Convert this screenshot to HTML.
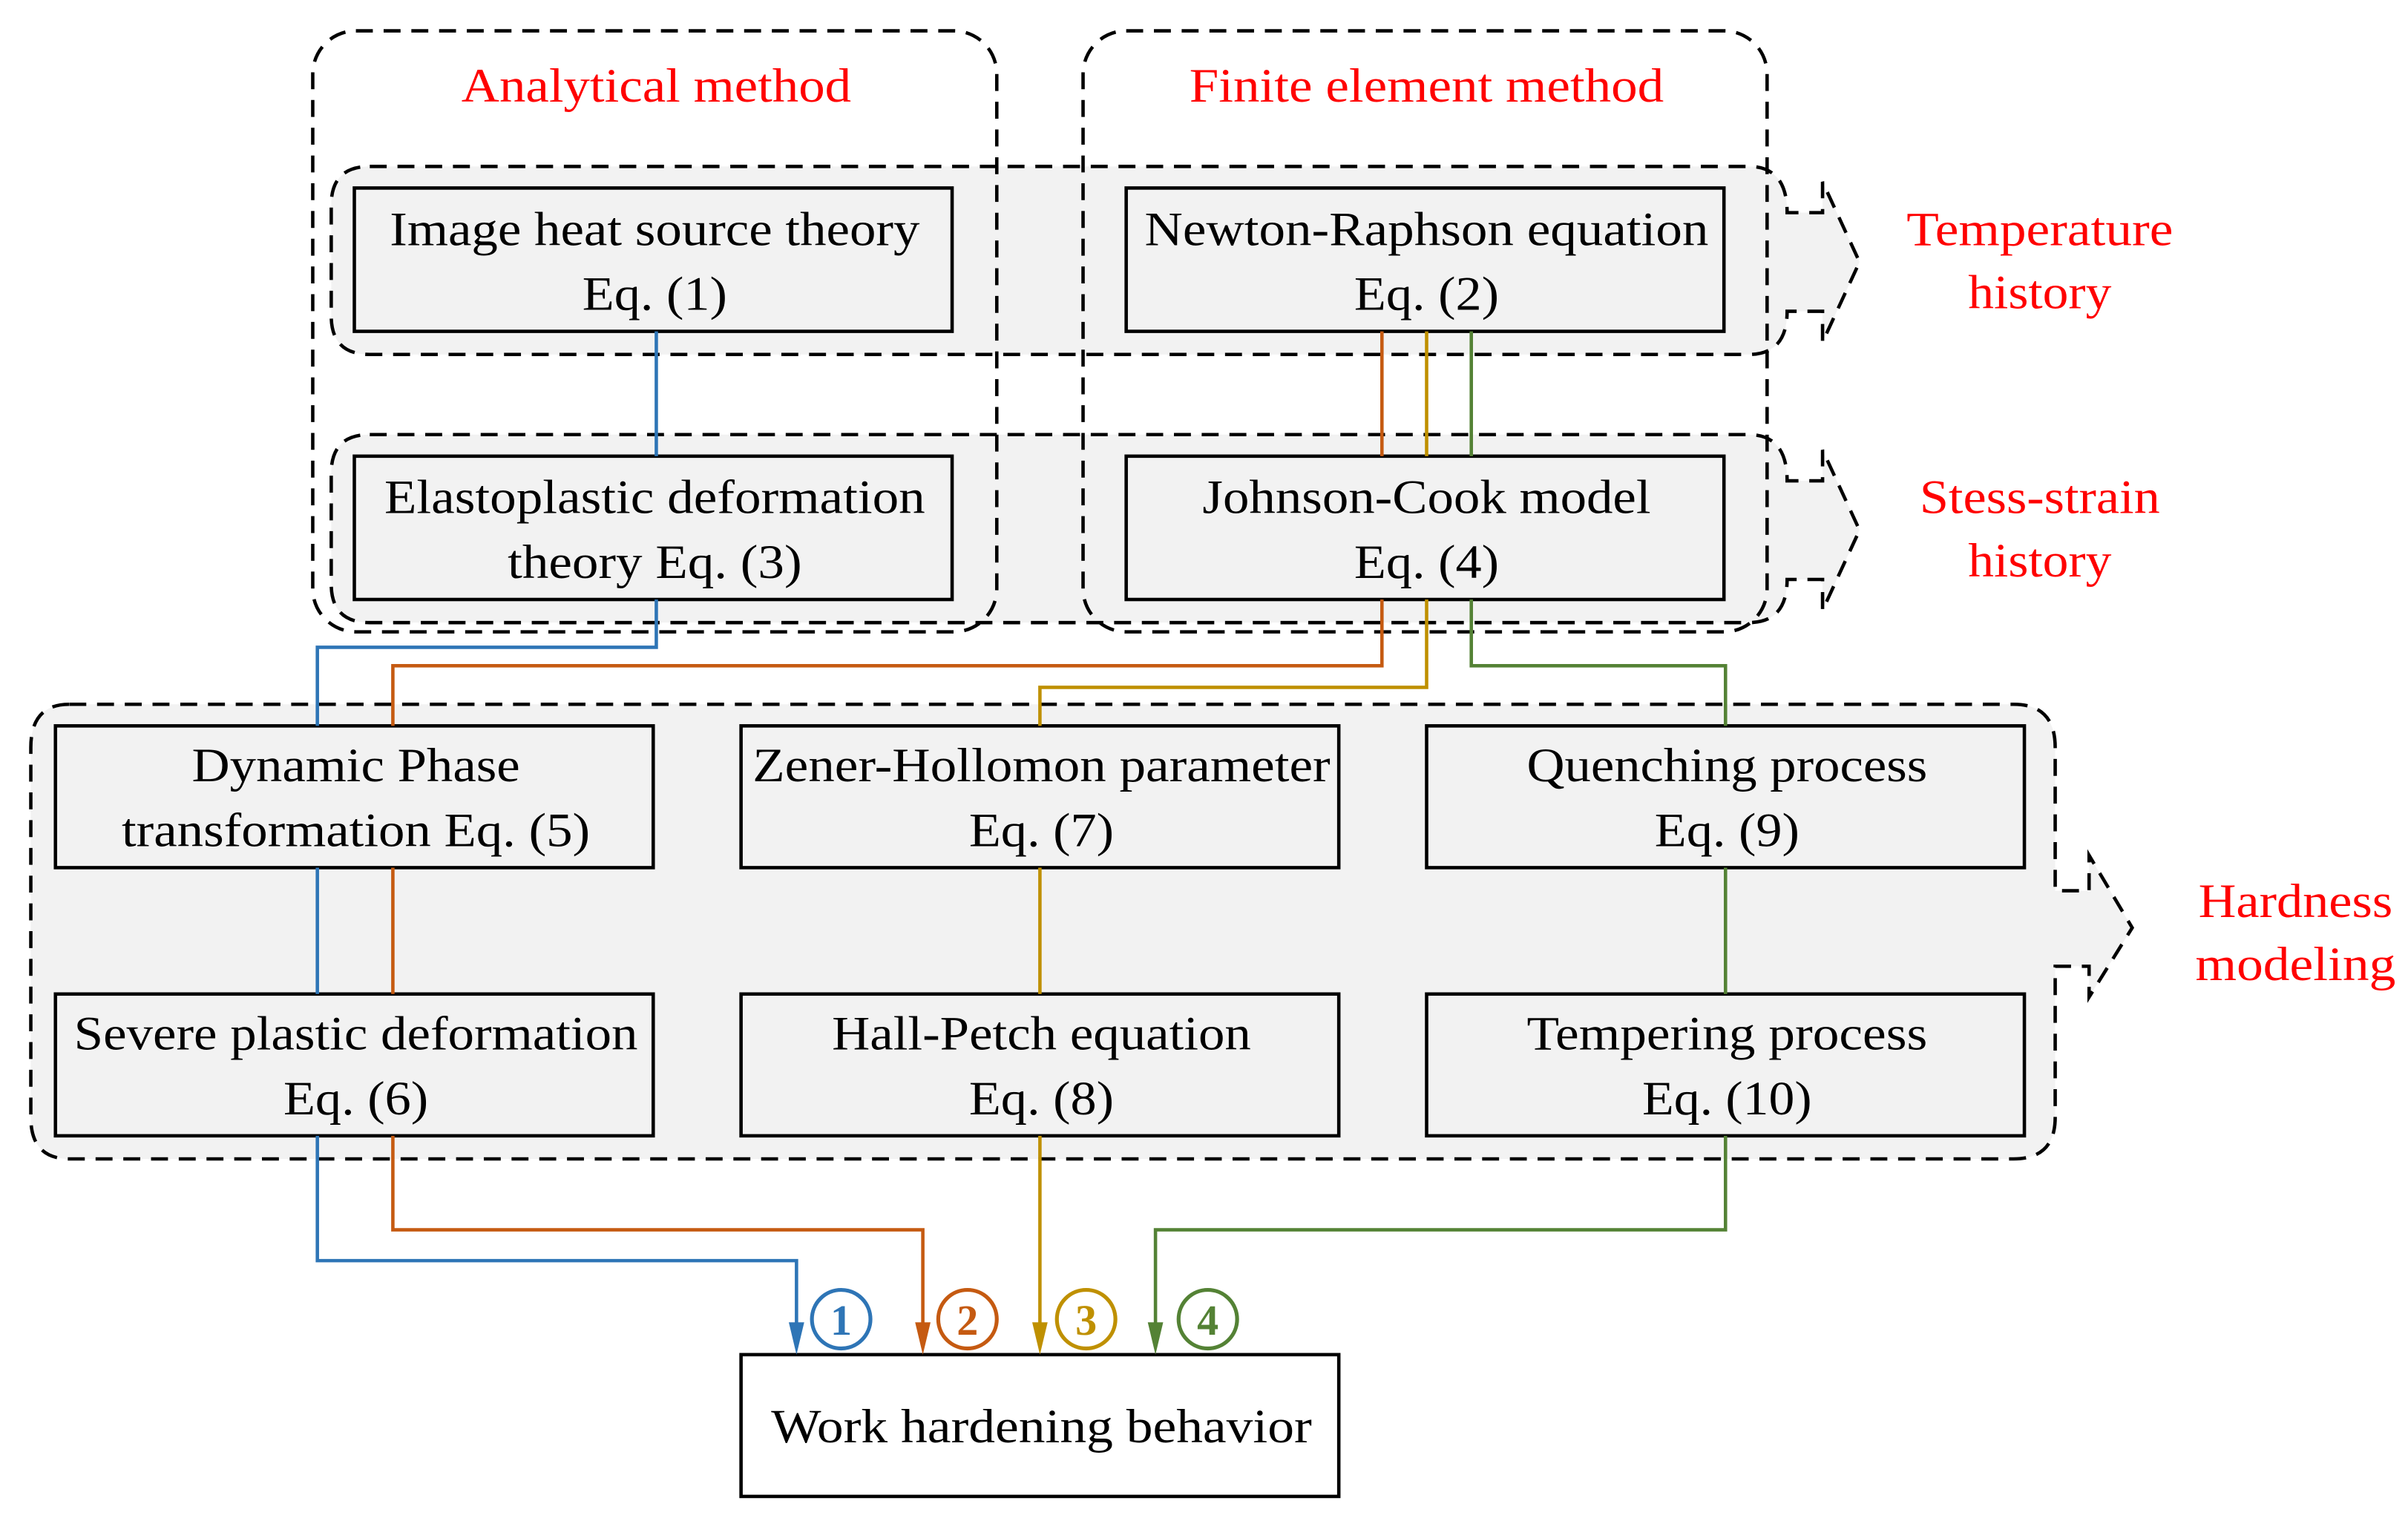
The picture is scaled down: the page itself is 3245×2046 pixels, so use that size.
<!DOCTYPE html>
<html><head><meta charset="utf-8"><style>
html,body{margin:0;padding:0;background:#fff;}
svg{display:block;}
text{font-family:"Liberation Serif",serif;font-size:31px;}
</style></head><body>
<svg width="3245" height="2046" viewBox="0 0 1563 985" preserveAspectRatio="none" xmlns="http://www.w3.org/2000/svg">
<g fill="#f2f2f2" stroke="#000" stroke-width="2.2" stroke-dasharray="11,7">
 <!-- bands -->
 <path d="M240,108 H1135 Q1160,108 1160,138 H1183 V118 L1207,170 L1183,222 V202 H1160 Q1160,230 1135,230 H240 Q215,230 215,205 V133 Q215,108 240,108 Z"/>
 <path d="M240,282 H1135 Q1160,282 1160,312 H1183 V292 L1207,344 L1183,396 V376 H1160 Q1160,404 1135,404 H240 Q215,404 215,379 V307 Q215,282 240,282 Z"/>
 <path d="M45,457 H1307 Q1334,457 1334,485 V578 H1356 V555 L1384,602 L1356,647 V627 H1334 V725 Q1334,752 1307,752 H45 Q20,752 20,725 V485 Q20,457 45,457 Z"/>
</g>
<g fill="none" stroke="#000" stroke-width="2.2" stroke-dasharray="11,7">
 <rect x="203" y="20" width="444" height="390" rx="28"/>
 <rect x="703" y="20" width="444" height="390" rx="28"/>
</g>
<g fill="#f2f2f2" stroke="#000" stroke-width="2.2">
 <rect x="230" y="122" width="388" height="93"/>
 <rect x="731" y="122" width="388" height="93"/>
 <rect x="230" y="296" width="388" height="93"/>
 <rect x="731" y="296" width="388" height="93"/>
 <rect x="36" y="471" width="388" height="92"/>
 <rect x="481" y="471" width="388" height="92"/>
 <rect x="926" y="471" width="388" height="92"/>
 <rect x="36" y="645" width="388" height="92"/>
 <rect x="481" y="645" width="388" height="92"/>
 <rect x="926" y="645" width="388" height="92"/>
</g>
<rect x="481" y="879" width="388" height="92" fill="#fff" stroke="#000" stroke-width="2.2"/>
<g fill="none" stroke-width="2.2">
 <g stroke="#2E75B6">
  <path d="M426,215 V296"/><path d="M426,389 V420 H206 V471"/><path d="M206,563 V645"/><path d="M206,737 V818 H517 V866"/>
 </g>
 <g stroke="#C55A11">
  <path d="M897,215 V296"/><path d="M897,389 V432 H255 V471"/><path d="M255,563 V645"/><path d="M255,737 V798 H599 V866"/>
 </g>
 <g stroke="#BF9000">
  <path d="M926,215 V296"/><path d="M926,389 V446 H675 V471"/><path d="M675,563 V645"/><path d="M675,737 V866"/>
 </g>
 <g stroke="#548235">
  <path d="M955,215 V296"/><path d="M955,389 V432 H1120 V471"/><path d="M1120,563 V645"/><path d="M1120,737 V798 H750 V866"/>
 </g>
</g>
<polygon points="512,858 522,858 517,879" fill="#2E75B6"/>
<polygon points="594,858 604,858 599,879" fill="#C55A11"/>
<polygon points="670,858 680,858 675,879" fill="#BF9000"/>
<polygon points="745,858 755,858 750,879" fill="#548235"/>
<g fill="none" stroke-width="2.5">
 <circle cx="546" cy="856" r="19" stroke="#2E75B6"/>
 <circle cx="628" cy="856" r="19" stroke="#C55A11"/>
 <circle cx="705" cy="856" r="19" stroke="#BF9000"/>
 <circle cx="784" cy="856" r="19" stroke="#548235"/>
</g>
<g text-anchor="middle" font-weight="bold" style="font-size:28px">
 <text x="546" y="866" fill="#2E75B6" style="font-size:28px">1</text>
 <text x="628" y="866" fill="#C55A11" style="font-size:28px">2</text>
 <text x="705" y="866" fill="#BF9000" style="font-size:28px">3</text>
 <text x="784" y="866" fill="#548235" style="font-size:28px">4</text>
</g>
<g text-anchor="middle" fill="#000" lengthAdjust="spacingAndGlyphs">
 <text x="425" y="159" textLength="344" lengthAdjust="spacingAndGlyphs">Image heat source theory</text>
 <text x="425" y="201" textLength="94" lengthAdjust="spacingAndGlyphs">Eq. (1)</text>
 <text x="926" y="159" textLength="366" lengthAdjust="spacingAndGlyphs">Newton-Raphson equation</text>
 <text x="926" y="201" textLength="94" lengthAdjust="spacingAndGlyphs">Eq. (2)</text>
 <text x="425" y="333" textLength="351" lengthAdjust="spacingAndGlyphs">Elastoplastic deformation</text>
 <text x="425" y="375" textLength="191" lengthAdjust="spacingAndGlyphs">theory Eq. (3)</text>
 <text x="926" y="333" textLength="291" lengthAdjust="spacingAndGlyphs">Johnson-Cook model</text>
 <text x="926" y="375" textLength="94" lengthAdjust="spacingAndGlyphs">Eq. (4)</text>
 <text x="231" y="507" textLength="213" lengthAdjust="spacingAndGlyphs">Dynamic Phase</text>
 <text x="231" y="549" textLength="304" lengthAdjust="spacingAndGlyphs">transformation Eq. (5)</text>
 <text x="676" y="507" textLength="375" lengthAdjust="spacingAndGlyphs">Zener-Hollomon parameter</text>
 <text x="676" y="549" textLength="94" lengthAdjust="spacingAndGlyphs">Eq. (7)</text>
 <text x="1121" y="507" textLength="260" lengthAdjust="spacingAndGlyphs">Quenching process</text>
 <text x="1121" y="549" textLength="94" lengthAdjust="spacingAndGlyphs">Eq. (9)</text>
 <text x="231" y="681" textLength="366" lengthAdjust="spacingAndGlyphs">Severe plastic deformation</text>
 <text x="231" y="723" textLength="94" lengthAdjust="spacingAndGlyphs">Eq. (6)</text>
 <text x="676" y="681" textLength="272" lengthAdjust="spacingAndGlyphs">Hall-Petch equation</text>
 <text x="676" y="723" textLength="94" lengthAdjust="spacingAndGlyphs">Eq. (8)</text>
 <text x="1121" y="681" textLength="260" lengthAdjust="spacingAndGlyphs">Tempering process</text>
 <text x="1121" y="723" textLength="110" lengthAdjust="spacingAndGlyphs">Eq. (10)</text>
 <text x="676" y="936" textLength="351" lengthAdjust="spacingAndGlyphs">Work hardening behavior</text>
</g>
<g text-anchor="middle" fill="#ff0000">
 <text x="426" y="66" textLength="253" lengthAdjust="spacingAndGlyphs">Analytical method</text>
 <text x="926" y="66" textLength="308" lengthAdjust="spacingAndGlyphs">Finite element method</text>
 <text x="1324" y="159" textLength="173" lengthAdjust="spacingAndGlyphs">Temperature</text>
 <text x="1324" y="200" textLength="93" lengthAdjust="spacingAndGlyphs">history</text>
 <text x="1324" y="333" textLength="156" lengthAdjust="spacingAndGlyphs">Stess-strain</text>
 <text x="1324" y="374" textLength="93" lengthAdjust="spacingAndGlyphs">history</text>
 <text x="1490" y="595" textLength="126" lengthAdjust="spacingAndGlyphs">Hardness</text>
 <text x="1490" y="636" textLength="130" lengthAdjust="spacingAndGlyphs">modeling</text>
</g>
</svg>
</body></html>
